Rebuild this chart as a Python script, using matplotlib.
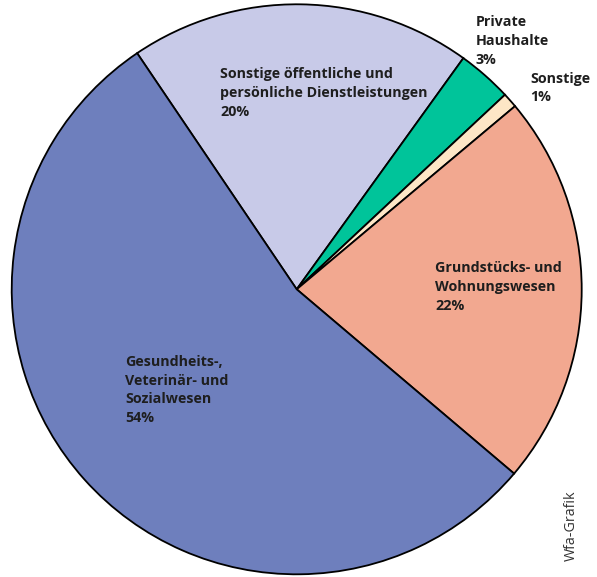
import matplotlib
matplotlib.use("Agg")
import matplotlib.pyplot as plt

labels = ["Sonstige öffentliche und\npersönliche Dienstleistungen\n20%",
          "Private\nHaushalte\n3%",
          "Sonstige\n1%",
          "Grundstücks- und\nWohnungswesen\n22%",
          "Gesundheits-,\nVeterinär- und\nSozialwesen\n54%"]
values = [19.4, 3.1, 0.85, 22.3, 54.35]
colors = ["#c8cae8", "#00c49a", "#fde6c6", "#f2a890", "#6e7fbd"]

W, H = 597, 577
fig = plt.figure(figsize=(W/100, H/100), dpi=100)
cx, cy, r = 296.7, 289.3, 285.0
ax = fig.add_axes([(cx - r)/W, (H - cy - r)/H, 2*r/W, 2*r/H])
ax.pie(values, colors=colors, startangle=124.05, counterclock=False,
       wedgeprops=dict(edgecolor="black", linewidth=1.3), radius=1.0)
ax.set_xlim(-1, 1)
ax.set_ylim(-1, 1)
ax.set_aspect("equal")
ax.axis("off")

# label positions (pixel coords of left edge, block center)
pos = [(220, 93), (476, 41), (530, 88), (435, 287), (125, 390)]
for lab, (x, y) in zip(labels, pos):
    fig.text(x/W, 1 - y/H, lab, ha="left", va="center", fontsize=10.3,
             fontweight="bold", family="Open Sans", color="#1e1e1e",
             linespacing=1.42)

fig.text(571/W, 1 - 526/H, "Wfa-Grafik", rotation=90, ha="center", va="center",
         fontsize=10.3, family="Open Sans", color="#333333")

fig.savefig("out.png", dpi=100)
